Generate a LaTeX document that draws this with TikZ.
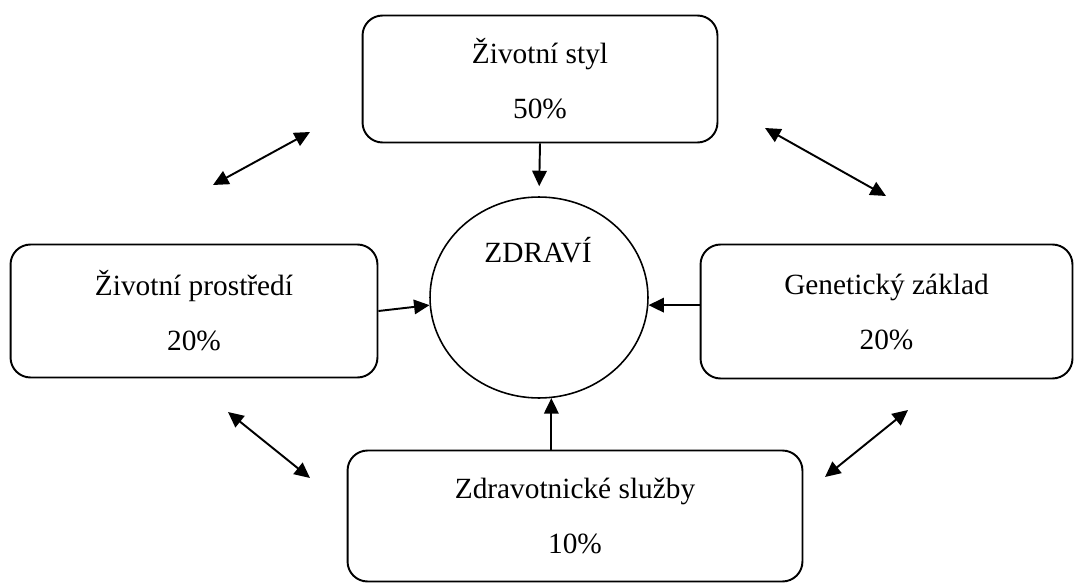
\documentclass[tikz,border=0pt]{standalone}
\usepackage{fontspec}
\setmainfont{Liberation Serif}
\usetikzlibrary{arrows.meta,shapes.geometric}

\begin{document}
\begin{tikzpicture}
[x=0.02cm,y=-0.02cm,
 box/.style={draw=black,line width=1.1pt,rounded corners=0.4cm,inner sep=0pt,align=center,font=\fontsize{16.7}{31.3}\selectfont},
 arr/.style={line width=1.1pt,-{Triangle[length=0.31cm,width=0.29cm]}},
 darr/.style={line width=1.1pt,{Triangle[length=0.31cm,width=0.29cm]}-{Triangle[length=0.31cm,width=0.29cm]}}]
\useasboundingbox (0,0) rectangle (1074,584);

% factor boxes
\node[box,minimum width=7.1cm,minimum height=2.54cm] (styl) at (540,79) {Životní styl\\50\%};
\node[box,minimum width=7.34cm,minimum height=2.66cm] (prostredi) at (194,311) {Životní prostředí\\20\%};
\node[box,minimum width=7.44cm,minimum height=2.68cm] (genetika) at (886.5,311.5) {Genetický základ\\20\%};
\node[box,minimum width=9.1cm,minimum height=2.62cm] (sluzby) at (575,516) {Zdravotnické služby\\10\%};

% health in the middle
\node[draw,ellipse,line width=0.9pt,inner sep=0pt,minimum width=4.36cm,minimum height=4.02cm] (zdravi) at (539,297.5) {};
\node[anchor=base,font=\fontsize{16.7}{20}\selectfont] (zdravitext) at (538,262) {ZDRAVÍ};

\draw[arr,shorten >=0.2cm] (styl.south) -- (zdravi.north);
\draw[arr] (prostredi.east) -- (zdravi.184);
\draw[arr] (genetika.west |- zdravi.356) -- (zdravi.356);
\draw[arr] (sluzby.north -| zdravi.277) -- (zdravi.277);

% links between the factors
\coordinate (p1) at (213,185);
\coordinate (s1) at (310,132);
\coordinate (s2) at (765,128);
\coordinate (g1) at (886,196);
\coordinate (p2) at (228,412);
\coordinate (z1) at (310,478);
\coordinate (z2) at (825,477);
\coordinate (g2) at (908,410);

\draw[darr] (p1) -- (s1);
\draw[darr] (s2) -- (g1);
\draw[darr] (p2) -- (z1);
\draw[darr] (z2) -- (g2);
\end{tikzpicture}
\end{document}
